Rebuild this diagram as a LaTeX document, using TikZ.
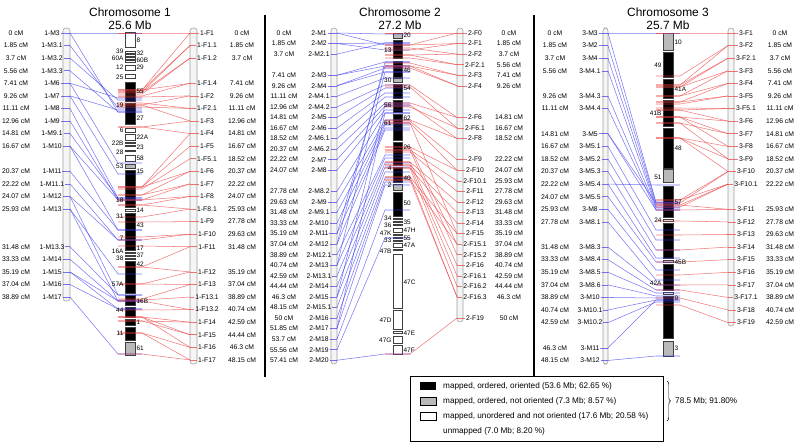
\documentclass[tikz,border=0pt]{standalone}
\usepackage{fontspec}
\setmainfont{Liberation Sans}
\usetikzlibrary{decorations.pathreplacing}
\definecolor{mblue}{RGB}{60,60,240}
\definecolor{mred}{RGB}{235,60,60}
\colorlet{sgray}{gray!55}

\begin{document}
\begin{tikzpicture}[
    x=0.03cm, y=-0.03cm,
    title/.style={align=center, font=\fontsize{10.2}{11.5}\selectfont},
    mlab/.style={font=\fontsize{5.8}{6}\selectfont, inner sep=0.6pt},
    cmlab/.style={font=\fontsize{5.8}{6}\selectfont, inner sep=0pt},
    seglab/.style={font=\fontsize{5.5}{6}\selectfont, inner sep=0.3pt},
    lmap/.style={draw=gray!75, fill=gray!8, line width=0.5pt, rounded corners=2.5pt},
    seg/.style={draw=black!75, line width=0.3pt},
    bl/.style={draw=mblue, line width=0.45pt, opacity=0.7},
    rd/.style={draw=mred, line width=0.45pt, opacity=0.7},
    sep/.style={line width=1.2pt},
    legtext/.style={font=\fontsize{7}{8}\selectfont, anchor=west, inner sep=0pt}
]
\useasboundingbox (0,0) rectangle (800,445);

% Chromosome 1
\node[title] (t1) at (130,18.5) {Chromosome 1\\25.6 Mb};
\draw[lmap] (63,28) rectangle (70,301);
\draw[lmap] (190,28) rectangle (197,364);
\foreach \ya/\yb/\fc in {32/47/white, 51.5/53/white, 54.5/56/white, 57.5/59/white, 60.5/62/white,
    65/70/white, 74/78/white, 82/101/black, 103/124/black, 128/132/white, 134/140/white,
    142/143.5/white, 145/146.5/white, 150/151.5/white, 155/161/white, 164/168/sgray,
    170/207/black, 209/211/white, 213/250/black, 252/253.5/white, 255/256.5/white,
    258/259.5/white, 261/293/black, 295/305/black, 307/317/black, 319/325/black,
    327/340/black, 342/355/sgray}
    \draw[seg, fill=\fc] (125,\ya) rectangle (135,\yb);
\foreach \n/\cmv [count=\i] in {M3/0, M3.1/1.85, M3.2/3.7, M3.3/5.56, M6/7.41, M7/9.26, M8/11.11,
    M9/12.96, M9.1/14.81, M10/16.67, M11/20.37, M11.1/22.22, M12/24.07, M13/25.93,
    M13.3/31.48, M14/33.33, M15/35.19, M16/37.04, M17/38.89} {
  \pgfmathsetmacro\yy{33+\cmv*6.79}
  \coordinate (c1a\i) at (70,\yy);
  \node[mlab] (c1m\i) at (52,\yy) {1-\n};
  \node[cmlab] (c1d\i) at (16,\yy) {\cmv~cM};
  \draw[bl] (c1m\i.east) -- (c1a\i);
}
\foreach \n/\cmv [count=\i] in {F1/0, F1.1/1.85, F1.2/3.7, F1.4/7.41, F2/9.26, F2.1/11.11,
    F3/12.96, F4/14.81, F5/16.67, F5.1/18.52, F6/20.37, F7/22.22, F8/24.07, F8.1/25.93,
    F9/27.78, F10/29.63, F11/31.48, F12/35.19, F13/37.04, F13.1/38.89, F13.2/40.74,
    F14/42.59, F15/44.44, F16/46.3, F17/48.15} {
  \pgfmathsetmacro\yy{33+\cmv*6.79}
  \coordinate (c1b\i) at (190,\yy);
  \node[mlab] (c1f\i) at (207,\yy) {1-\n};
  \node[cmlab] (c1e\i) at (242,\yy) {\cmv~cM};
  \draw[rd] (c1b\i) -- (c1f\i.west);
}
\foreach \i/\tg in {1/33, 1/112, 2/108, 3/100, 4/112, 5/98, 5/163, 6/110, 6/174, 7/198,
    8/200, 9/198, 10/200, 10/230, 11/230, 12/240, 13/240, 13/295, 14/274, 14/301, 15/295,
    16/301, 17/301, 17/309, 18/309, 19/354} {
  \coordinate (p) at (118,\tg);
  \draw[bl] (c1a\i) -- (p) -- ++(24,0);
}
\foreach \i/\tg in {1/33, 1/90, 2/90, 2/92, 3/92, 3/94, 4/90, 4/96, 5/97, 5/105, 6/103,
    6/107, 7/105, 7/127, 8/127, 8/187, 9/187, 10/189, 11/187, 11/195, 12/195, 12/200,
    13/200, 13/205, 14/205, 14/217, 15/222, 16/237, 16/240, 17/246, 17/267, 18/267,
    18/284, 19/284, 19/299, 20/300, 21/301, 21/310, 22/317, 22/321, 23/317, 23/321,
    24/317, 24/333, 25/333, 25/354} {
  \coordinate (q) at (142,\tg);
  \draw[rd] (c1b\i) -- (q) -- ++(-24,0);
}
\foreach \y/\s [count=\k] in {51/39, 58/60A, 67/12, 77/25, 105/19, 130/6, 143/22B, 152/28,
    166/53, 200/18, 216/31, 238/7, 251/16A, 258/38, 284/57A, 310/44, 333/11}
    \node[seglab, anchor=east] (c1l\k) at (124,\y) {\s};
\foreach \y/\s [count=\k] in {40/8, 53/32, 60/60B, 67/29, 91/55, 118/27, 137/22A, 147/23,
    158/58, 171/15, 210/14, 225/43, 248/17, 255/37, 264/42, 301/16B, 322/1, 348/61}
    \node[seglab, anchor=west] (c1r\k) at (136,\y) {\s};

\draw[sep] (265,15) -- (265,377);

% Chromosome 2
\node[title] (t2) at (400,18.5) {Chromosome 2\\27.2 Mb};
\draw[lmap] (331,28) rectangle (337,364);
\draw[lmap] (457,28) rectangle (463,322);
\foreach \ya/\yb/\fc in {33/38/sgray, 40/58/black, 61/77/black, 78/82/sgray, 84/98/black,
    100/112/black, 114/140/black, 142/165/black, 167/182/black, 184/190/sgray,
    192/216/black, 218/219.5/white, 221/222.5/white, 224/225.5/white, 228/232/white,
    234/235.5/white, 237/238.5/white, 240/241.5/white, 243/247/white, 249/250.5/white,
    254/308/white, 310/329/white, 331/333/white, 336/343/white, 345/354/white}
    \draw[seg, fill=\fc] (393,\ya) rectangle (402,\yb);
\foreach \n/\cmv [count=\i] in {M1/0, M2/1.85, M2.1/3.7, M3/7.41, M4/9.26, M4.1/11.11,
    M4.2/12.96, M5/14.81, M6/16.67, M6.1/18.52, M6.2/20.37, M7/22.22, M8/24.07, M8.2/27.78,
    M9/29.63, M9.1/31.48, M10/33.33, M11/35.19, M12/37.04, M12.1/38.89, M13/40.74,
    M13.1/42.59, M14/44.44, M15/46.3, M15.1/48.15, M16/50, M17/51.85, M18/53.7,
    M19/55.56, M20/57.41} {
  \pgfmathsetmacro\yy{33+\cmv*5.7}
  \coordinate (c2a\i) at (337,\yy);
  \node[mlab] (c2m\i) at (319,\yy) {2-\n};
  \node[cmlab] (c2d\i) at (284,\yy) {\cmv~cM};
  \draw[bl] (c2m\i.east) -- (c2a\i);
}
\foreach \n/\cmv [count=\i] in {F0/0, F1/1.85, F2/3.7, F2.1/5.56, F3/7.41, F4/9.26,
    F6/14.81, F6.1/16.67, F8/18.52, F9/22.22, F10/24.07, F10.1/25.93, F11/27.78,
    F12/29.63, F13/31.48, F14/33.33, F15/35.19, F15.1/37.04, F15.2/38.89, F16/40.74,
    F16.1/42.59, F16.2/44.44, F16.3/46.3, F19/50} {
  \pgfmathsetmacro\yy{33+\cmv*5.7}
  \coordinate (c2b\i) at (457,\yy);
  \node[mlab] (c2f\i) at (475,\yy) {2-\n};
  \node[cmlab] (c2e\i) at (509,\yy) {\cmv~cM};
  \draw[rd] (c2b\i) -- (c2f\i.west);
}
\foreach \i/\tg in {1/34, 1/45, 2/43, 2/50, 3/43, 4/62, 4/66, 5/68, 5/72, 6/78, 7/85,
    8/88, 9/93, 10/97, 11/103, 12/106, 13/110, 14/113, 15/120, 16/123, 17/125, 18/128,
    18/66, 19/130, 19/62, 20/155, 21/158, 21/72, 22/163, 23/167, 24/172, 24/105, 25/178,
    26/182, 27/185, 27/113, 28/210, 29/238, 30/354} {
  \coordinate (p) at (385,\tg);
  \draw[bl] (c2a\i) -- (p) -- ++(25,0);
}
\foreach \i/\tg in {1/33, 1/45, 2/45, 2/50, 3/48, 3/55, 4/55, 4/58, 5/63, 5/66, 6/66,
    6/68, 7/85, 7/103, 8/87, 8/107, 9/105, 9/120, 10/121, 11/123, 11/147, 12/150, 13/152,
    14/162, 15/165, 16/168, 17/177, 17/123, 18/180, 18/147, 19/150, 20/162, 21/165,
    22/168, 23/177, 23/180, 24/354} {
  \coordinate (q) at (410,\tg);
  \draw[rd] (c2b\i) -- (q) -- ++(-25,0);
}
\foreach \y/\s [count=\k] in {50/13, 80/30, 105/56, 123/61, 168/4, 185/2, 218/34, 225/36,
    233/47K, 240/33, 251/47B, 320/47D, 340/47G}
    \node[seglab, anchor=east] (c2l\k) at (392,\y) {\s};
\foreach \y/\s [count=\k] in {35/20, 70/46, 88/54, 118/62, 147/26, 178/40, 203/50, 222/35,
    230/47H, 238/55, 245/47A, 282/47C, 333/47E, 350/47F}
    \node[seglab, anchor=west] (c2r\k) at (403,\y) {\s};

\draw[sep] (534,15) -- (534,377);

% Chromosome 3
\node[title] (t3) at (668,18.5) {Chromosome 3\\25.7 Mb};
\draw[lmap] (603,28) rectangle (608,364);
\draw[lmap] (728,28) rectangle (734,326);
\foreach \ya/\yb/\fc in {33/50/sgray, 52/77/black, 79/98/black, 100/126/black,
    128/168/black, 169/182/sgray, 186/217/black, 219/221/white, 223/258/black,
    260/262/white, 264/290/black, 292/294/white, 296/338/black, 341/356/sgray}
    \draw[seg, fill=\fc] (663,\ya) rectangle (673,\yb);
\foreach \n/\cmv [count=\i] in {M3/0, M2/1.85, M4/3.7, M4.1/5.56, M4.3/9.26, M4.4/11.11,
    M5/14.81, M5.1/16.67, M5.2/18.52, M5.3/20.37, M5.4/22.22, M5.5/24.07, M8/25.93,
    M8.1/27.78, M8.3/31.48, M8.4/33.33, M8.5/35.19, M8.6/37.04, M10/38.89, M10.1/40.74,
    M10.2/42.59, M11/46.3, M12/48.15} {
  \pgfmathsetmacro\yy{33+\cmv*6.8}
  \coordinate (c3a\i) at (608,\yy);
  \node[mlab] (c3m\i) at (590,\yy) {3-\n};
  \node[cmlab] (c3d\i) at (555,\yy) {\cmv~cM};
  \draw[bl] (c3m\i.east) -- (c3a\i);
}
\foreach \n/\cmv [count=\i] in {F1/0, F2/1.85, F2.1/3.7, F3/5.56, F4/7.41, F5/9.26,
    F5.1/11.11, F6/12.96, F7/14.81, F8/16.67, F9/18.52, F10/20.37, F10.1/22.22, F11/25.93,
    F12/27.78, F13/29.63, F14/31.48, F15/33.33, F16/35.19, F17/37.04, F17.1/38.89,
    F18/40.74, F19/42.59} {
  \pgfmathsetmacro\yy{33+\cmv*6.8}
  \coordinate (c3b\i) at (728,\yy);
  \node[mlab] (c3f\i) at (746,\yy) {3-\n};
  \node[cmlab] (c3e\i) at (780,\yy) {\cmv~cM};
  \draw[rd] (c3b\i) -- (c3f\i.west);
}
\foreach \i/\tg in {1/33, 1/202, 2/203, 3/205, 4/207, 5/208, 6/210, 7/203, 7/210, 8/230,
    9/240, 10/250, 11/185, 11/258, 12/262, 13/270, 14/280, 15/285, 16/290, 17/293,
    18/296, 19/298, 20/300, 21/302, 22/300, 23/356} {
  \coordinate (p) at (656,\tg);
  \draw[bl] (c3a\i) -- (p) -- ++(24,0);
}
\foreach \i/\tg in {1/33, 2/76, 2/85, 3/85, 3/87, 4/87, 4/96, 5/96, 5/102, 6/102, 6/104,
    7/108, 7/110, 8/110, 8/117, 9/117, 9/123, 10/117, 10/138, 11/123, 11/138, 12/138,
    12/200, 12/203, 13/200, 13/205, 13/207, 14/205, 14/210, 15/221, 16/235, 17/250,
    18/262, 19/275, 20/285, 21/290, 22/298, 23/305} {
  \coordinate (q) at (680,\tg);
  \draw[rd] (c3b\i) -- (q) -- ++(-24,0);
}
\foreach \y/\s [count=\k] in {65/49, 113/41B, 177/51, 220/24, 283/42A}
    \node[seglab, anchor=east] (c3l\k) at (662,\y) {\s};
\foreach \y/\s [count=\k] in {42/10, 89/41A, 148/48, 202/57, 262/45B, 298/9, 348/3}
    \node[seglab, anchor=west] (c3r\k) at (674,\y) {\s};

% Legend
\draw[line width=0.5pt] (410,376) rectangle (663,441);
\fill[black] (420,382) rectangle (436,390);
\draw[fill=sgray] (420,397) rectangle (436,405);
\draw[fill=white] (420,412) rectangle (436,420);
\node[legtext] (lg1) at (443,386) {mapped, ordered, oriented (53.6 Mb; 62.65 \%)};
\node[legtext] (lg2) at (443,401) {mapped, ordered, not oriented (7.3 Mb; 8.57 \%)};
\node[legtext] (lg3) at (443,416) {mapped, unordered and not oriented (17.6 Mb; 20.58 \%)};
\node[legtext] (lg4) at (443,431) {unmapped (7.0 Mb; 8.20 \%)};
\draw[decorate, decoration={brace, amplitude=3pt}] (667,381) -- (667,421);
\node[legtext] (tot) at (675,401) {78.5 Mb; 91.80\%};

\end{tikzpicture}
\end{document}
